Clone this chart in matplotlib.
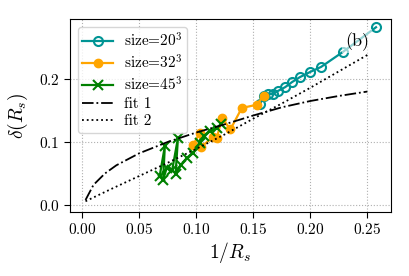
import numpy as np
import matplotlib
matplotlib.use("Agg")
from matplotlib import pyplot as plt

# Computer Modern look (cmr10 ships with matplotlib)
plt.rcParams['font.family'] = 'serif'
plt.rcParams['font.serif'] = ['cmr10', 'DejaVu Serif']
plt.rcParams['mathtext.fontset'] = 'cm'
plt.rcParams['axes.formatter.use_mathtext'] = True

# size = 20^3
x_20 = [0.156, 0.1595, 0.163, 0.1673, 0.1717, 0.178, 0.184, 0.191, 0.1998, 0.2094, 0.2287, 0.2576]
y_20 = [0.160, 0.173, 0.176, 0.176, 0.181, 0.187, 0.195, 0.203, 0.211, 0.219, 0.243, 0.282]

# size = 32^3
x_32 = [0.0973, 0.103, 0.104, 0.115, 0.118, 0.1227, 0.130, 0.140, 0.153, 0.159]
y_32 = [0.095, 0.114, 0.092, 0.108, 0.106, 0.138, 0.120, 0.154, 0.159, 0.173]

# size = 45^3
x_45 = [0.068, 0.0725, 0.071, 0.074, 0.079, 0.084, 0.082, 0.087, 0.092, 0.097, 0.103, 0.107, 0.112, 0.118, 0.122]
y_45 = [0.046, 0.093, 0.040, 0.058, 0.056, 0.106, 0.050, 0.064, 0.075, 0.082, 0.098, 0.110, 0.117, 0.122, 0.128]

# fit curves
x_fit1 = [0.003, 0.01, 0.02, 0.03, 0.05, 0.075, 0.1, 0.125, 0.15, 0.175, 0.2, 0.225, 0.25]
y_fit1 = [0.008, 0.032, 0.050, 0.063, 0.082, 0.100, 0.115, 0.128, 0.142, 0.155, 0.165, 0.173, 0.180]

x_fit2 = [0.003, 0.025, 0.05, 0.075, 0.1, 0.125, 0.15, 0.175, 0.2, 0.225, 0.25]
y_fit2 = [0.006, 0.025, 0.046, 0.067, 0.089, 0.112, 0.137, 0.161, 0.186, 0.212, 0.238]

fig = plt.figure(figsize=(4.1, 2.76), dpi=100)
ax = fig.add_axes([0.171, 0.232, 0.782, 0.699])

ax.plot(x_20, y_20, '-o', color='#009494', mfc='none', ms=6.5, mew=1.5, lw=1.6,
        label='size=$20^3$')
ax.plot(x_32, y_32, '-o', color='orange', ms=6, lw=1.6,
        label='size=$32^3$')
ax.plot(x_45, y_45, '-x', color='green', ms=7, mew=1.5, lw=1.6,
        label='size=$45^3$')
ax.plot(x_fit1, y_fit1, '-.', color='black', lw=1.3, label='fit 1')
ax.plot(x_fit2, y_fit2, ':', color='black', lw=1.3, label='fit 2')

ax.text(0.895, 0.885, '(b)', transform=ax.transAxes, fontsize=13,
        ha='center', va='center',
        bbox=dict(facecolor='white', edgecolor='none', alpha=0.6, pad=2))

ax.set_xlim(-0.0105, 0.2705)
ax.set_ylim(-0.011, 0.295)
ax.set_xticks([0.0, 0.05, 0.1, 0.15, 0.2, 0.25])
ax.set_yticks([0.0, 0.1, 0.2])
ax.xaxis.set_major_formatter(plt.FuncFormatter(lambda v, p: f'${v:.2f}$'))
ax.yaxis.set_major_formatter(plt.FuncFormatter(lambda v, p: f'${v:.1f}$'))
ax.tick_params(labelsize=11, length=4, width=0.8)
ax.grid(True, ls=':', color='#b0b0b0', lw=0.8)
ax.set_axisbelow(True)
ax.set_xlabel(r'$1/R_s$', fontsize=14, labelpad=2)
ax.set_ylabel(r'$\delta(R_s)$', fontsize=14, labelpad=6)

ax.legend(loc='upper left', fontsize=11, handlelength=2.0, handletextpad=0.7,
          borderpad=0.3, labelspacing=0.25, framealpha=0.8)

fig.savefig('out.png', dpi=100)
